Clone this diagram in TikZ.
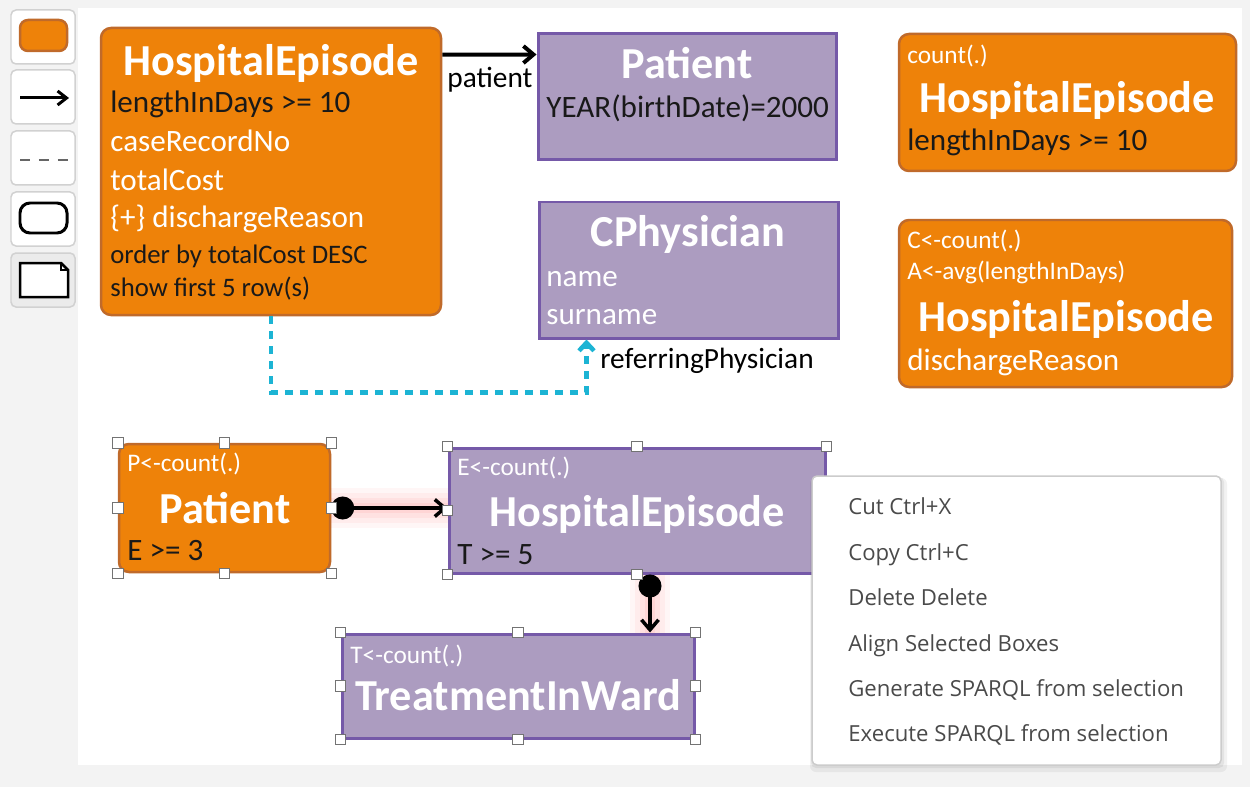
\documentclass[tikz,border=0pt]{standalone}
\usepackage{fontspec}
\setmainfont{Carlito}
\newfontfamily\menufont{Open Sans}
\usepackage{tikz}
\usetikzlibrary{arrows.meta, positioning, fit, calc}
\usepackage{xcolor}

\definecolor{boxorange}{HTML}{EE8209}
\definecolor{orangeedge}{HTML}{C06A2A}
\definecolor{boxpurple}{HTML}{AC9CC0}
\definecolor{purpleedge}{HTML}{7559A8}
\definecolor{linkcyan}{HTML}{1CB4D4}
\definecolor{panelgray}{HTML}{F3F3F3}
\definecolor{menutext}{HTML}{4A4A4A}

\tikzset{
  orangebox/.style={draw=orangeedge, fill=boxorange, line width=0.05cm, rounded corners=0.2cm, inner sep=0pt},
  purplebox/.style={draw=purpleedge, fill=boxpurple, line width=0.06cm, inner sep=0pt},
  boxtitle/.style={white, font=\fontsize{25.2}{29}\selectfont\bfseries, inner sep=0pt, text height=15.9pt, text depth=0pt},
  boxline/.style={anchor=west, text=black!90, font=\fontsize{17.7}{20}\selectfont, inner sep=0pt, text height=11.2pt, text depth=0pt},
  boxnote/.style={boxline, font=\fontsize{15.2}{18}\selectfont, text height=9.6pt},
  aggline/.style={boxline, white, font=\fontsize{14.4}{17}\selectfont, text height=9.1pt},
  edgelabel/.style={anchor=west, font=\fontsize{16.7}{19}\selectfont, inner sep=0pt, text height=10.5pt, text depth=0pt},
  handle/.style={draw=black!55, fill=white, line width=0.02cm, minimum size=0.21cm, inner sep=0pt},
  link/.style={line width=0.07cm, {Circle[length=0.46cm]}-{Straight Barb[length=0.2cm, width=0.34cm]}},
  glow/.style={red, line cap=butt},
  menuitem/.style={anchor=west, text=menutext, font=\menufont\fontsize{12.6}{15}\selectfont, inner sep=0pt, text height=9pt, text depth=0pt},
  toolbtn/.style={draw=black!18, fill=white, line width=0.03cm, rounded corners=0.1cm}
}

\begin{document}
\begin{tikzpicture}[x=0.02cm, y=-0.02cm]
  \useasboundingbox (0,0) rectangle (1250,787);
  \fill[panelgray] (0,0) rectangle (1250,787);
  \fill[white] (78,8) rectangle (1242,765);

  % toolbar
  \foreach \y in {10,70,131,192} \draw[toolbtn] (11,\y) rectangle ++(64,54);
  \draw[toolbtn, fill=black!8] (11,253) rectangle ++(64,54);
  \draw[orangebox, rounded corners=0.16cm] (20,20) rectangle (67,51);
  \draw[line width=0.06cm, -{Straight Barb[length=0.18cm, width=0.28cm]}] (20,98) -- (69,98);
  \draw[black!60, line width=0.05cm, dash pattern=on 0.2cm off 0.18cm] (20,160) -- (68,160);
  \draw[line width=0.06cm, rounded corners=0.2cm] (20,203) rectangle (67,233);
  \draw[line width=0.05cm, fill=white] (20,263) -- (61,263) -- (68,270) -- (68,297) -- (20,297) -- cycle;
  \draw[line width=0.03cm] (61,263) -- (61,270) -- (68,270);

  % boxes
  \node[orangebox, fit={(101,28) (441,315)}] (he1) {};
  \node[purplebox, fit={(538,34) (836,160)}] (pat1) {};
  \node[purplebox, fit={(539,202) (838,338)}] (cphys) {};
  \node[orangebox, fit={(899,34) (1236,171)}] (cnt1) {};
  \node[orangebox, fit={(899,220) (1232,387)}] (cnt2) {};
  \node[orangebox, fit={(119,444) (330,572)}] (pat2) {};
  \node[purplebox, fit={(449,448) (825,573)}] (he2) {};
  \node[purplebox, fit={(342,634) (694,738)}] (tiw) {};

  % texts
  \node[boxtitle] (he1t) at (271,62) {HospitalEpisode};
  \node[boxline] (he1a) at (110,103) {lengthInDays >= 10};
  \node[boxline, white] (he1b) at (110,142) {caseRecordNo};
  \node[boxline, white] (he1c) at (110,181) {totalCost};
  \node[boxline, white] (he1d) at (110,218) {\{+\} dischargeReason};
  \node[boxnote] (he1e) at (110,255) {order by totalCost DESC};
  \node[boxnote] (he1f) at (110,288) {show first 5 row(s)};

  \node[boxtitle] (pat1t) at (687,65) {Patient};
  \node[boxline] (pat1a) at (546,108) {YEAR(birthDate)=2000};

  \node[boxtitle] (cphyst) at (688,233) {CPhysician};
  \node[boxline, white] (cphysa) at (546,277) {name};
  \node[boxline, white] (cphysb) at (546,315) {surname};

  \node[aggline] (cnt1a) at (907,56) {count(.)};
  \node[boxtitle] (cnt1t) at (1067,99) {HospitalEpisode};
  \node[boxline] (cnt1b) at (907,141) {lengthInDays >= 10};

  \node[aggline] (cnt2a) at (907,241) {C<-count(.)};
  \node[aggline] (cnt2b) at (907,272) {A<-avg(lengthInDays)};
  \node[boxtitle] (cnt2t) at (1066,318) {HospitalEpisode};
  \node[boxline, white] (cnt2c) at (907,361) {dischargeReason};

  \node[aggline] (pat2a) at (127,464) {P<-count(.)};
  \node[boxtitle] (pat2t) at (225,510) {Patient};
  \node[boxline] (pat2b) at (127,551) {E >= 3};

  \node[aggline] (he2a) at (457,468) {E<-count(.)};
  \node[boxtitle] (he2t) at (637,513) {HospitalEpisode};
  \node[boxline] (he2b) at (457,555) {T >= 5};

  \node[aggline] (tiwa) at (350,655) {T<-count(.)};
  \node[boxtitle] (tiwt) at (518,697) {TreatmentInWard};

  % connectors
  \draw[line width=0.08cm, -{Straight Barb[length=0.2cm, width=0.34cm]}]
    ($(he1.north east)+(0,28)$) -- ($(pat1.north west)+(0,22)$);
  \node[edgelabel] (lblpat) at (447,78) {patient};
  \draw[linkcyan, line width=0.09cm, dash pattern=on 0.16cm off 0.14cm,
        -{Straight Barb[length=0.16cm, width=0.3cm]}]
    (he1.south) -- ++(0,76) -| ($(cphys.south west)+(49,0)$);
  \node[edgelabel] (lblref) at (600,359) {referringPhysician};

  \foreach \w/\o in {0.8/0.035, 0.6/0.04, 0.4/0.045, 0.2/0.05} {
    \draw[glow, line width=\w cm, opacity=\o] (pat2.east) -- (pat2.east -| he2.west);
    \draw[glow, line width=\w cm, opacity=\o] ([xshift=0.26cm]he2.south) -- ([xshift=0.26cm]he2.south |- tiw.north);
  }
  \draw[link] (pat2.east) -- (pat2.east -| he2.west);
  \draw[link] ([xshift=0.26cm]he2.south) -- ([xshift=0.26cm]he2.south |- tiw.north);

  % selection handles
  \foreach \a/\n in {north west/nw, north/n, north east/ne, west/w, east/e, south west/sw, south/s, south east/se} {
    \node[handle] (pat2-\n) at (pat2.\a) {};
    \node[handle] (he2-\n) at (he2.\a) {};
    \node[handle] (tiw-\n) at (tiw.\a) {};
  }

  % context menu
  \fill[black, opacity=0.05, rounded corners=0.12cm] (810,478) rectangle (1227,772);
  \fill[black, opacity=0.06, rounded corners=0.1cm] (811,477) rectangle (1224,768);
  \node[draw=black!20, fill=white, line width=0.03cm, rounded corners=0.1cm, inner sep=0pt,
        fit={(812,476) (1221,765)}] (menu) {};
  \foreach \t [count=\i] in {Cut Ctrl+X, Copy Ctrl+C, Delete Delete, Align Selected Boxes,
      Generate SPARQL from selection, Execute SPARQL from selection}
    \node[menuitem] (item\i) at (848,{461.6+45.4*\i}) {\t};
\end{tikzpicture}
\end{document}
